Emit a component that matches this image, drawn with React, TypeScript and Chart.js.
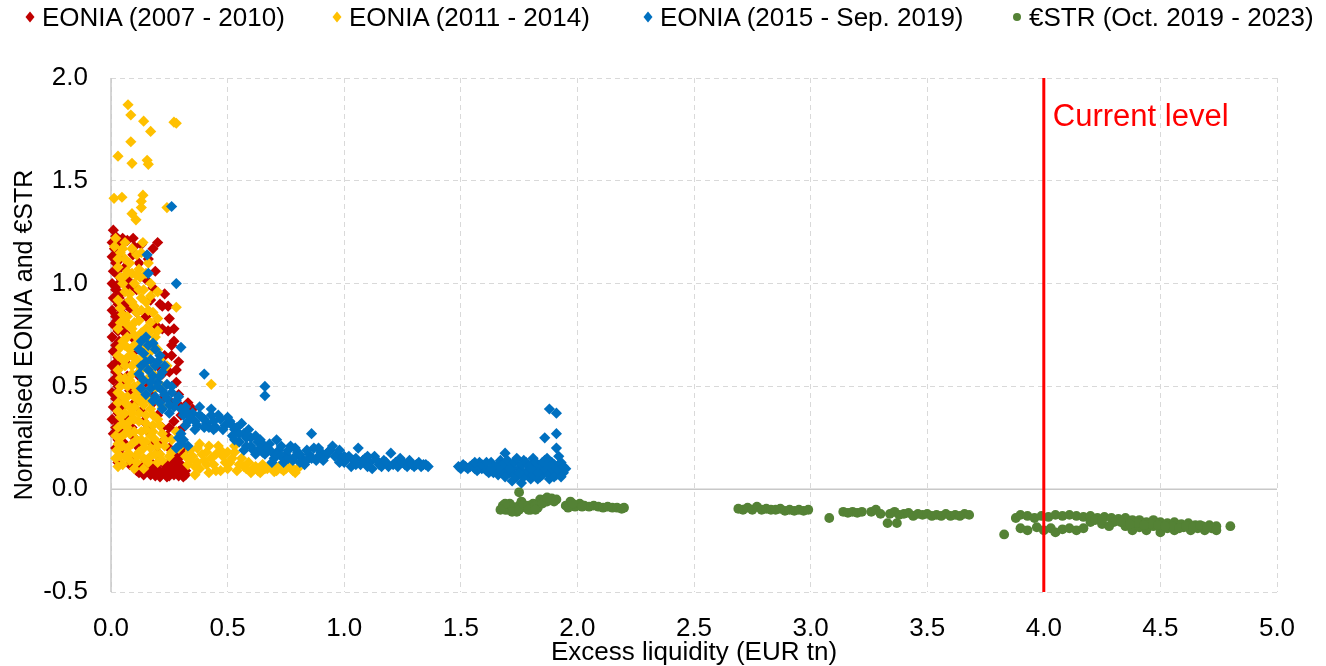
import React, { useEffect, useRef } from "react";
import { Chart, registerables } from "chart.js";

Chart.register(...registerables);

const FONT = "'Liberation Sans', Arial, sans-serif";

const seriesLabels = [
  "EONIA (2007 - 2010)",
  "EONIA (2011 - 2014)",
  "EONIA (2015 - Sep. 2019)",
  "€STR (Oct. 2019 - 2023)",
];
const seriesColors = ["#c00000", "#ffc000", "#0070c0", "#548235"];

const xTicks = [0, 0.5, 1, 1.5, 2, 2.5, 3, 3.5, 4, 4.5, 5];
const yTicks = [-0.5, 0, 0.5, 1, 1.5, 2];
const currentLevel = 4.0;
const currentLevelLabel = "Current level";
const xTitle = "Excess liquidity (EUR tn)";
const yTitle = "Normalised EONIA and €STR";

const eonia0710: [number, number][] = [
  [0.01, 1.26], [0.02, 1.23], [0.005, 1.2], [0.015, 1.17], [0.03, 1.19], [0.005, 1.13], [0.02, 1.1],
  [0.01, 1.06], [0.03, 1.04], [0.005, 1.0], [0.02, 0.97], [0.01, 0.93], [0.03, 0.9], [0.005, 0.87],
  [0.02, 0.84], [0.01, 0.8], [0.03, 0.77], [0.005, 0.74], [0.02, 0.7], [0.01, 0.67], [0.03, 0.64],
  [0.005, 0.6], [0.02, 0.57], [0.01, 0.53], [0.03, 0.5], [0.005, 0.47], [0.02, 0.44], [0.01, 0.4],
  [0.03, 0.37], [0.005, 0.34], [0.02, 0.3], [0.01, 0.27], [0.03, 0.24], [0.02, 0.2], [0.04, 0.17],
  [0.03, 0.13],
  [0.025, 1.15], [0.035, 1.07], [0.025, 0.99], [0.035, 0.93], [0.025, 0.82], [0.035, 0.72],
  [0.025, 0.62], [0.035, 0.55], [0.025, 0.47], [0.035, 0.4], [0.025, 0.33],
  [0.04, 1.12], [0.045, 1.02], [0.04, 0.95], [0.045, 0.86], [0.04, 0.79], [0.045, 0.7], [0.04, 0.6],
  [0.045, 0.52], [0.04, 0.45], [0.045, 0.34], [0.04, 0.28], [0.045, 0.2],
  [0.05, 1.22], [0.07, 1.21], [0.095, 1.22], [0.094, 1.14], [0.18, 1.17], [0.12, 1.1], [0.06, 1.08],
  [0.15, 1.02], [0.08, 0.98], [0.1, 1.18], [0.13, 1.19], [0.16, 1.12], [0.19, 1.06], [0.07, 1.02],
  [0.11, 0.97], [0.18, 0.98], [0.2, 1.2], [0.23, 0.95],
  [0.06, 0.9], [0.11, 0.86], [0.22, 0.89], [0.245, 0.89], [0.17, 0.92], [0.19, 0.8], [0.245, 0.77],
  [0.26, 0.7], [0.27, 0.72], [0.09, 0.74], [0.14, 0.7], [0.23, 0.65], [0.06, 0.62], [0.2, 0.6],
  [0.25, 0.57], [0.12, 0.55], [0.28, 0.52], [0.08, 0.48], [0.17, 0.47], [0.23, 0.45], [0.26, 0.42],
  [0.05, 0.4], [0.13, 0.38], [0.2, 0.36], [0.27, 0.33], [0.09, 0.3], [0.16, 0.28], [0.24, 0.26],
  [0.3, 0.24], [0.06, 0.22], [0.12, 0.2], [0.2, 0.18], [0.27, 0.17], [0.35, 0.39], [0.33, 0.42],
  [0.21, 0.9], [0.08, 0.88], [0.15, 0.84], [0.22, 0.78], [0.06, 0.76], [0.11, 0.68], [0.18, 0.7],
  [0.07, 0.55], [0.15, 0.52], [0.22, 0.56], [0.1, 0.42], [0.18, 0.42], [0.07, 0.35], [0.14, 0.33],
  [0.22, 0.3], [0.1, 0.25], [0.18, 0.22], [0.25, 0.2], [0.26, 0.65], [0.3, 0.4],
  [0.25, 0.83], [0.27, 0.78], [0.29, 0.62], [0.28, 0.58], [0.29, 0.46], [0.3, 0.36], [0.31, 0.3],
  [0.29, 0.28], [0.25, 0.3], [0.22, 0.23], [0.31, 0.18], [0.29, 0.15],
  [0.08, 0.12], [0.11, 0.09], [0.13, 0.11], [0.14, 0.07], [0.16, 0.09], [0.17, 0.12], [0.19, 0.065],
  [0.2, 0.1], [0.22, 0.08], [0.23, 0.12], [0.24, 0.06], [0.25, 0.09], [0.27, 0.07], [0.28, 0.1],
  [0.29, 0.065], [0.3, 0.08], [0.31, 0.06], [0.32, 0.09], [0.15, 0.14], [0.26, 0.13], [0.1, 0.15],
  [0.21, 0.14], [0.27, 0.08], [0.12, 0.08], [0.15, 0.1], [0.18, 0.08], [0.21, 0.06], [0.23, 0.09],
  [0.26, 0.1], [0.29, 0.09], [0.31, 0.1], [0.32, 0.07], [0.18, 0.12], [0.24, 0.12], [0.28, 0.13],
  [0.2, 0.08], [0.17, 0.07], [0.25, 0.065], [0.3, 0.12],
];

const eonia1114: [number, number][] = [
  [0.073, 1.87], [0.085, 1.82], [0.14, 1.79], [0.27, 1.785], [0.28, 1.78], [0.17, 1.74], [0.085, 1.69],
  [0.03, 1.62], [0.09, 1.585], [0.155, 1.6], [0.16, 1.58], [0.013, 1.415], [0.047, 1.42], [0.137, 1.43],
  [0.13, 1.4], [0.13, 1.37], [0.24, 1.37], [0.09, 1.34], [0.107, 1.31],
  [0.02, 1.22], [0.015, 1.18], [0.137, 1.2], [0.04, 1.15], [0.11, 1.14], [0.16, 1.1], [0.06, 1.12],
  [0.03, 1.08], [0.09, 1.05], [0.125, 1.03], [0.17, 1.0], [0.05, 1.0], [0.2, 0.96], [0.08, 0.95],
  [0.13, 0.93], [0.03, 0.92], [0.1, 0.89], [0.28, 0.885], [0.16, 0.87], [0.05, 0.85], [0.12, 0.82],
  [0.2, 0.83], [0.07, 0.8], [0.03, 0.78], [0.15, 0.78], [0.1, 0.75], [0.19, 0.74], [0.05, 0.72],
  [0.13, 0.71], [0.08, 0.68], [0.17, 0.67], [0.03, 0.65], [0.11, 0.63], [0.21, 0.63], [0.06, 0.6],
  [0.15, 0.59], [0.09, 0.56], [0.04, 0.54], [0.19, 0.55], [0.13, 0.52], [0.07, 0.5], [0.22, 0.5],
  [0.16, 0.48], [0.03, 0.47], [0.1, 0.45], [0.2, 0.43], [0.06, 0.42], [0.14, 0.41], [0.43, 0.51],
  [0.03, 0.38], [0.09, 0.37], [0.18, 0.36], [0.12, 0.33], [0.05, 0.32], [0.21, 0.31], [0.15, 0.29],
  [0.08, 0.27], [0.02, 0.26], [0.11, 0.24], [0.19, 0.24], [0.05, 0.21], [0.14, 0.2], [0.23, 0.21],
  [0.08, 0.17], [0.02, 0.15], [0.17, 0.16], [0.11, 0.13], [0.05, 0.12], [0.22, 0.14], [0.14, 0.1],
  [0.26, 0.18], [0.29, 0.2], [0.3, 0.25], [0.28, 0.28], [0.025, 0.19],
  [0.06, 1.2], [0.09, 1.17], [0.03, 1.12], [0.13, 1.15], [0.07, 1.06], [0.12, 1.07], [0.04, 1.03],
  [0.1, 1.0], [0.14, 0.97], [0.06, 0.96], [0.09, 0.91], [0.17, 0.94], [0.04, 0.88], [0.13, 0.87],
  [0.07, 0.84], [0.1, 0.81], [0.17, 0.81], [0.04, 0.81], [0.13, 0.76], [0.07, 0.74], [0.2, 0.77],
  [0.1, 0.7], [0.16, 0.71], [0.04, 0.69], [0.2, 0.68], [0.07, 0.64], [0.14, 0.65], [0.24, 0.6],
  [0.09, 0.6], [0.18, 0.6], [0.03, 0.58], [0.12, 0.57], [0.06, 0.54], [0.16, 0.54], [0.1, 0.5],
  [0.19, 0.49], [0.04, 0.5], [0.13, 0.46], [0.07, 0.45], [0.17, 0.43], [0.03, 0.42], [0.1, 0.4],
  [0.22, 0.4], [0.06, 0.37], [0.15, 0.36], [0.12, 0.37], [0.08, 0.33], [0.18, 0.31], [0.03, 0.3],
  [0.13, 0.28], [0.06, 0.27], [0.22, 0.27], [0.17, 0.26], [0.09, 0.22], [0.15, 0.23], [0.03, 0.22],
  [0.2, 0.21], [0.12, 0.18], [0.06, 0.16], [0.19, 0.17], [0.1, 0.1], [0.03, 0.11], [0.26, 0.24],
  [0.25, 0.16], [0.08, 0.14], [0.16, 0.13],
  [0.05, 1.17], [0.08, 1.1], [0.11, 1.04], [0.15, 1.05], [0.06, 1.04], [0.12, 0.97], [0.08, 0.92],
  [0.15, 0.91], [0.11, 0.86], [0.18, 0.86], [0.06, 0.82], [0.09, 0.78], [0.17, 0.77], [0.12, 0.73],
  [0.06, 0.7], [0.15, 0.68], [0.09, 0.65], [0.12, 0.6], [0.05, 0.63], [0.17, 0.57], [0.08, 0.53],
  [0.11, 0.48], [0.05, 0.45], [0.15, 0.44], [0.08, 0.4], [0.12, 0.43], [0.17, 0.39], [0.04, 0.35],
  [0.1, 0.34], [0.15, 0.32], [0.2, 0.34], [0.07, 0.3], [0.1, 0.28], [0.18, 0.28], [0.04, 0.25],
  [0.13, 0.24], [0.07, 0.2], [0.17, 0.2], [0.11, 0.16], [0.21, 0.17], [0.04, 0.16], [0.14, 0.15],
  [0.23, 0.24], [0.2, 0.13],
  [0.33, 0.12], [0.35, 0.16], [0.37, 0.2], [0.38, 0.1], [0.4, 0.14], [0.41, 0.18], [0.42, 0.08],
  [0.44, 0.12], [0.45, 0.17], [0.46, 0.21], [0.47, 0.09], [0.49, 0.13], [0.5, 0.1], [0.52, 0.15],
  [0.53, 0.18], [0.55, 0.12], [0.58, 0.1], [0.6, 0.08], [0.62, 0.11], [0.63, 0.09], [0.65, 0.12],
  [0.67, 0.1], [0.7, 0.085], [0.72, 0.11], [0.74, 0.09], [0.76, 0.12], [0.78, 0.09], [0.8, 0.1],
  [0.36, 0.07], [0.32, 0.16],
  [0.34, 0.14], [0.36, 0.11], [0.39, 0.17], [0.41, 0.12], [0.43, 0.15], [0.45, 0.09], [0.48, 0.16],
  [0.51, 0.13], [0.54, 0.09], [0.56, 0.15], [0.57, 0.11], [0.59, 0.13], [0.61, 0.1], [0.64, 0.08],
  [0.66, 0.1], [0.69, 0.12], [0.71, 0.09], [0.73, 0.1], [0.75, 0.1], [0.77, 0.11], [0.79, 0.08],
  [0.34, 0.19], [0.38, 0.22], [0.42, 0.21], [0.47, 0.19], [0.5, 0.18], [0.53, 0.21], [0.37, 0.13],
];

const eonia1519: [number, number][] = [
  [0.26, 1.375], [0.155, 1.14], [0.16, 1.05], [0.28, 1.0], [0.3, 0.69], [0.4, 0.56], [0.66, 0.5],
  [0.66, 0.455], [0.43, 0.39],
  [0.13, 0.72], [0.16, 0.7], [0.19, 0.68], [0.14, 0.66], [0.17, 0.63], [0.2, 0.62], [0.13, 0.6],
  [0.16, 0.58], [0.22, 0.57], [0.18, 0.55], [0.14, 0.53], [0.2, 0.52], [0.24, 0.51], [0.17, 0.49],
  [0.22, 0.48], [0.26, 0.47], [0.15, 0.46], [0.19, 0.45], [0.24, 0.44], [0.28, 0.43], [0.21, 0.42],
  [0.27, 0.4], [0.3, 0.39], [0.25, 0.37],
  [0.12, 0.68], [0.15, 0.74], [0.18, 0.71], [0.21, 0.65], [0.15, 0.62], [0.19, 0.6], [0.23, 0.6],
  [0.12, 0.56], [0.17, 0.52], [0.21, 0.55], [0.26, 0.5], [0.13, 0.49], [0.23, 0.46], [0.18, 0.43],
  [0.29, 0.45], [0.25, 0.41], [0.22, 0.39], [0.32, 0.4], [0.2, 0.5],
  [0.31, 0.36], [0.33, 0.33], [0.35, 0.37], [0.37, 0.31], [0.39, 0.35], [0.41, 0.32], [0.43, 0.36],
  [0.45, 0.3], [0.47, 0.34], [0.49, 0.31], [0.51, 0.33], [0.53, 0.29], [0.38, 0.4], [0.29, 0.25],
  [0.3, 0.22], [0.28, 0.2], [0.31, 0.24], [0.3, 0.27], [0.33, 0.21],
  [0.32, 0.38], [0.34, 0.35], [0.36, 0.33], [0.38, 0.36], [0.4, 0.34], [0.42, 0.3], [0.44, 0.33],
  [0.46, 0.36], [0.48, 0.29], [0.5, 0.35], [0.52, 0.31], [0.32, 0.31], [0.36, 0.29], [0.4, 0.3],
  [0.44, 0.29],
  [0.52, 0.26], [0.54, 0.3], [0.55, 0.23], [0.57, 0.27], [0.58, 0.21], [0.6, 0.25], [0.61, 0.19],
  [0.63, 0.23], [0.53, 0.24], [0.55, 0.27], [0.56, 0.32], [0.58, 0.25], [0.59, 0.29], [0.6, 0.21],
  [0.62, 0.26], [0.64, 0.24], [0.57, 0.19], [0.62, 0.17], [0.65, 0.22],
  [0.64, 0.2], [0.66, 0.17], [0.68, 0.22], [0.7, 0.15], [0.71, 0.24], [0.72, 0.19], [0.74, 0.13],
  [0.75, 0.17], [0.77, 0.21], [0.78, 0.14], [0.8, 0.18], [0.82, 0.15], [0.83, 0.12], [0.85, 0.17],
  [0.86, 0.27], [0.87, 0.2], [0.88, 0.14], [0.9, 0.18], [0.92, 0.16], [0.94, 0.19], [0.95, 0.21],
  [0.97, 0.17], [0.65, 0.18], [0.67, 0.2], [0.69, 0.18], [0.69, 0.13], [0.71, 0.17], [0.73, 0.16],
  [0.73, 0.21], [0.76, 0.15], [0.76, 0.19], [0.79, 0.16], [0.79, 0.2], [0.81, 0.13], [0.81, 0.17],
  [0.84, 0.14], [0.84, 0.19], [0.86, 0.15], [0.89, 0.16], [0.89, 0.2], [0.91, 0.14], [0.93, 0.18],
  [0.96, 0.16], [0.98, 0.19],
  [0.99, 0.15], [1.0, 0.13], [1.02, 0.16], [1.04, 0.14], [1.06, 0.2], [1.07, 0.12], [1.09, 0.15],
  [1.11, 0.13], [1.13, 0.16], [1.15, 0.12], [1.17, 0.14], [1.19, 0.11], [1.2, 0.175], [1.22, 0.13],
  [1.24, 0.15], [1.26, 0.12], [1.28, 0.14], [1.3, 0.11], [1.32, 0.13], [1.34, 0.12], [1.36, 0.11],
  [1.03, 0.11], [1.12, 0.1], [1.01, 0.15], [1.05, 0.12], [1.08, 0.14], [1.1, 0.11], [1.14, 0.14],
  [1.16, 0.11], [1.18, 0.13], [1.21, 0.12], [1.23, 0.11], [1.25, 0.13], [1.27, 0.11], [1.29, 0.12],
  [1.31, 0.12], [1.33, 0.11], [1.35, 0.12], [0.98, 0.13], [1.0, 0.16], [1.05, 0.15], [1.1, 0.16],
  [1.49, 0.11], [1.51, 0.12], [1.53, 0.1], [1.55, 0.12], [1.57, 0.09], [1.58, 0.13], [1.6, 0.11],
  [1.62, 0.08], [1.63, 0.13], [1.65, 0.1], [1.66, 0.07], [1.67, 0.14], [1.69, 0.175], [1.7, 0.11],
  [1.71, 0.08], [1.73, 0.13], [1.74, 0.06], [1.75, 0.1], [1.77, 0.14], [1.78, 0.08], [1.79, 0.11],
  [1.8, 0.05], [1.81, 0.15], [1.82, 0.09], [1.83, 0.12], [1.84, 0.06], [1.85, 0.1], [1.86, 0.14],
  [1.87, 0.08], [1.88, 0.11], [1.88, 0.05], [1.89, 0.13], [1.9, 0.09], [1.91, 0.07], [1.92, 0.12],
  [1.93, 0.1], [1.94, 0.08], [1.76, 0.03], [1.72, 0.04], [1.86, 0.25], [1.91, 0.27], [1.91, 0.2],
  [1.88, 0.39], [1.91, 0.37], [1.92, 0.16],
  [1.5, 0.1], [1.52, 0.11], [1.54, 0.11], [1.56, 0.1], [1.56, 0.13], [1.59, 0.1], [1.59, 0.12],
  [1.61, 0.13], [1.61, 0.09], [1.64, 0.11], [1.64, 0.08], [1.66, 0.12], [1.68, 0.09], [1.68, 0.12],
  [1.69, 0.06], [1.7, 0.14], [1.72, 0.1], [1.72, 0.12], [1.73, 0.07], [1.74, 0.15], [1.76, 0.09],
  [1.76, 0.12], [1.77, 0.06], [1.78, 0.13], [1.79, 0.08], [1.8, 0.12], [1.81, 0.07], [1.82, 0.13],
  [1.83, 0.05], [1.84, 0.11], [1.85, 0.07], [1.85, 0.13], [1.86, 0.09], [1.87, 0.12], [1.88, 0.07],
  [1.89, 0.1], [1.9, 0.12], [1.9, 0.06], [1.91, 0.1], [1.92, 0.09], [1.93, 0.13], [1.94, 0.11],
  [1.95, 0.1], [1.93, 0.06], [1.87, 0.15], [1.83, 0.08], [1.8, 0.1], [1.75, 0.08], [1.71, 0.1],
  [1.66, 0.1], [1.63, 0.1],
];

const estr1923: [number, number][] = [
  [1.68, -0.08], [1.7, -0.1], [1.71, -0.07], [1.73, -0.09], [1.74, -0.11], [1.76, -0.06], [1.75, -0.015],
  [1.78, -0.09], [1.8, -0.1], [1.81, -0.07], [1.83, -0.09], [1.84, -0.05], [1.86, -0.05], [1.87, -0.06],
  [1.89, -0.045], [1.91, -0.05], [1.69, -0.1], [1.72, -0.085], [1.72, -0.11], [1.75, -0.08],
  [1.75, -0.1], [1.77, -0.075], [1.79, -0.08], [1.79, -0.1], [1.82, -0.08], [1.82, -0.1],
  [1.85, -0.07], [1.69, -0.07], [1.88, -0.05], [1.9, -0.06], [1.87, -0.04], [1.67, -0.1],
  [1.95, -0.08], [1.97, -0.06], [1.99, -0.085], [2.01, -0.07], [2.03, -0.08], [2.05, -0.085],
  [2.07, -0.08], [2.09, -0.085], [2.11, -0.09], [2.13, -0.085], [2.15, -0.09], [2.17, -0.09],
  [2.19, -0.095], [1.96, -0.09], [1.98, -0.07], [2.02, -0.085], [2.2, -0.09],
  [2.69, -0.095], [2.71, -0.1], [2.73, -0.09], [2.75, -0.1], [2.77, -0.085], [2.79, -0.1],
  [2.81, -0.095], [2.83, -0.1], [2.85, -0.1], [2.87, -0.095], [2.89, -0.105], [2.91, -0.1],
  [2.93, -0.105], [2.95, -0.1], [2.97, -0.105], [2.99, -0.1],
  [3.08, -0.14], [3.14, -0.11], [3.16, -0.115], [3.18, -0.11], [3.2, -0.115], [3.22, -0.11],
  [3.26, -0.11], [3.28, -0.1], [3.3, -0.12], [3.33, -0.165], [3.37, -0.165], [3.34, -0.12],
  [3.36, -0.11], [3.38, -0.125], [3.4, -0.12], [3.42, -0.115], [3.44, -0.13], [3.46, -0.12],
  [3.48, -0.125], [3.5, -0.12], [3.52, -0.13], [3.54, -0.125], [3.56, -0.13], [3.58, -0.12],
  [3.6, -0.13], [3.62, -0.125], [3.64, -0.13], [3.66, -0.12], [3.68, -0.125], [3.83, -0.22],
  [3.88, -0.14], [3.9, -0.125], [3.93, -0.13], [3.96, -0.14], [3.99, -0.13], [4.02, -0.135],
  [4.05, -0.125], [4.08, -0.13], [4.11, -0.125], [4.14, -0.13], [4.17, -0.135], [4.2, -0.13],
  [4.23, -0.14], [4.26, -0.135], [4.29, -0.14], [4.32, -0.145], [4.35, -0.14], [4.38, -0.15],
  [4.41, -0.15], [4.44, -0.16], [4.47, -0.15], [4.5, -0.16], [4.53, -0.165], [4.56, -0.16],
  [4.59, -0.17], [4.62, -0.165], [4.65, -0.175], [4.68, -0.18], [4.71, -0.175], [4.74, -0.18],
  [4.8, -0.18],
  [3.9, -0.19], [3.93, -0.2], [3.97, -0.185], [4.0, -0.2], [4.03, -0.19], [4.05, -0.21], [4.08, -0.195],
  [4.11, -0.19], [4.14, -0.2], [4.17, -0.19], [4.35, -0.18], [4.38, -0.2], [4.41, -0.185], [4.44, -0.2],
  [4.47, -0.18], [4.5, -0.21], [4.53, -0.19], [4.56, -0.2], [4.6, -0.185], [4.63, -0.2], [4.66, -0.19],
  [4.69, -0.2], [4.72, -0.19], [4.74, -0.2],
  [4.2, -0.16], [4.25, -0.17], [4.3, -0.16], [4.28, -0.18], [4.22, -0.15], [4.4, -0.165], [4.46, -0.17],
  [4.55, -0.18], [4.25, -0.15], [4.33, -0.16], [4.37, -0.17], [4.43, -0.175], [4.49, -0.175],
  [4.52, -0.18], [4.58, -0.19], [4.61, -0.18], [4.64, -0.185], [4.67, -0.175], [4.7, -0.185],
];

const seriesData = [eonia0710, eonia1114, eonia1519, estr1923];
const seriesShapes = ["rectRot", "rectRot", "rectRot", "circle"];

const linesPlugin = {
  id: "refLines",
  beforeDatasetsDraw(chart: any) {
    const { ctx, chartArea, scales } = chart;
    const x = scales.x;
    const y = scales.y;
    ctx.save();
    ctx.strokeStyle = "#c8c8c8";
    ctx.lineWidth = 1.5;
    const y0 = y.getPixelForValue(0);
    ctx.beginPath();
    ctx.moveTo(chartArea.left, y0);
    ctx.lineTo(chartArea.right, y0);
    ctx.stroke();
    const x0 = x.getPixelForValue(0);
    ctx.beginPath();
    ctx.moveTo(x0, chartArea.top);
    ctx.lineTo(x0, chartArea.bottom);
    ctx.stroke();
    ctx.restore();
  },
  afterDatasetsDraw(chart: any) {
    const { ctx, chartArea, scales } = chart;
    const xp = scales.x.getPixelForValue(currentLevel);
    ctx.save();
    ctx.strokeStyle = "#ff0000";
    ctx.lineWidth = 3;
    ctx.beginPath();
    ctx.moveTo(xp, chartArea.top);
    ctx.lineTo(xp, chartArea.bottom);
    ctx.stroke();
    ctx.fillStyle = "#ff0000";
    ctx.font = `31px ${FONT}`;
    ctx.textAlign = "left";
    ctx.textBaseline = "middle";
    ctx.fillText(currentLevelLabel, xp + 9, chartArea.top + 39);
    ctx.restore();
  },
};

const legendLefts = [40, 347, 658, 1027];

function Marker({ shape, color }: { shape: string; color: string }) {
  return (
    <svg width="12" height="12" viewBox="0 0 12 12" style={{ display: "block" }}>
      {shape === "circle" ? (
        <circle cx="6" cy="6" r="4" fill={color} />
      ) : (
        <polygon points="6,0.5 10.5,6 6,11.5 1.5,6" fill={color} />
      )}
    </svg>
  );
}

export default function App() {
  const canvasRef = useRef<HTMLCanvasElement>(null);

  useEffect(() => {
    const canvas = canvasRef.current;
    if (!canvas) return;
    const datasets = seriesData.map((pts, i) => ({
      label: seriesLabels[i],
      data: pts.map(([x, y]) => ({ x, y })),
      backgroundColor: seriesColors[i],
      borderColor: seriesColors[i],
      pointStyle: seriesShapes[i],
      pointRadius: seriesShapes[i] === "circle" ? 4.9 : 5.6,
      pointBorderWidth: 0,
      showLine: false,
      clip: false as any,
      order: seriesData.length - i,
    }));
    const chart = new Chart(canvas, {
      type: "scatter",
      data: { datasets },
      options: {
        animation: false,
        responsive: false,
        layout: { padding: { top: 78, right: 49, left: 0, bottom: 0 } },
        plugins: {
          legend: { display: false },
          tooltip: { enabled: false },
        },
        scales: {
          x: {
            type: "linear",
            min: xTicks[0],
            max: xTicks[xTicks.length - 1],
            afterBuildTicks: (scale: any) => {
              scale.ticks = xTicks.map((v) => ({ value: v }));
            },
            afterFit: (scale: any) => {
              scale.height = 74;
            },
            ticks: {
              color: "#000",
              font: { family: FONT, size: 26 },
              padding: 21,
              callback: (v: any) => Number(v).toFixed(1),
            },
            grid: { color: "#d9d9d9", lineWidth: 1, drawTicks: false },
            border: { display: false, dash: [5, 4] },
            title: {
              display: true,
              text: xTitle,
              color: "#000",
              font: { family: FONT, size: 26, lineHeight: 1.0 },
              padding: { top: 0, bottom: 0 },
            },
          },
          y: {
            type: "linear",
            min: yTicks[0],
            max: yTicks[yTicks.length - 1],
            afterBuildTicks: (scale: any) => {
              scale.ticks = yTicks.map((v) => ({ value: v }));
            },
            afterFit: (scale: any) => {
              scale.width = 111;
            },
            ticks: {
              color: "#000",
              font: { family: FONT, size: 26 },
              padding: 23,
              callback: (v: any) => Number(v).toFixed(1),
            },
            grid: { color: "#d9d9d9", lineWidth: 1, drawTicks: false },
            border: { display: false, dash: [5, 4] },
            title: {
              display: true,
              text: yTitle,
              color: "#000",
              font: { family: FONT, size: 25, lineHeight: 1.1 },
              padding: { top: 11, bottom: 0 },
            },
          },
        },
      },
      plugins: [linesPlugin],
    } as any);
    return () => chart.destroy();
  }, []);

  return (
    <div
      style={{
        position: "absolute",
        left: 0,
        top: 0,
        width: 1326,
        height: 666,
        background: "#fff",
        fontFamily: FONT,
      }}
    >
      <canvas ref={canvasRef} width={1326} height={666} style={{ display: "block" }} />
      {seriesLabels.map((label, i) => (
        <div
          key={label}
          style={{
            position: "absolute",
            top: 2,
            left: legendLefts[i] - 20,
            height: 30,
            display: "flex",
            alignItems: "center",
            fontSize: 26,
            lineHeight: "30px",
            color: "#000",
            whiteSpace: "nowrap",
          }}
        >
          <div style={{ width: 20, display: "flex", justifyContent: "center", paddingRight: 2 }}>
            <Marker shape={seriesShapes[i]} color={seriesColors[i]} />
          </div>
          <span>{label}</span>
        </div>
      ))}
    </div>
  );
}
